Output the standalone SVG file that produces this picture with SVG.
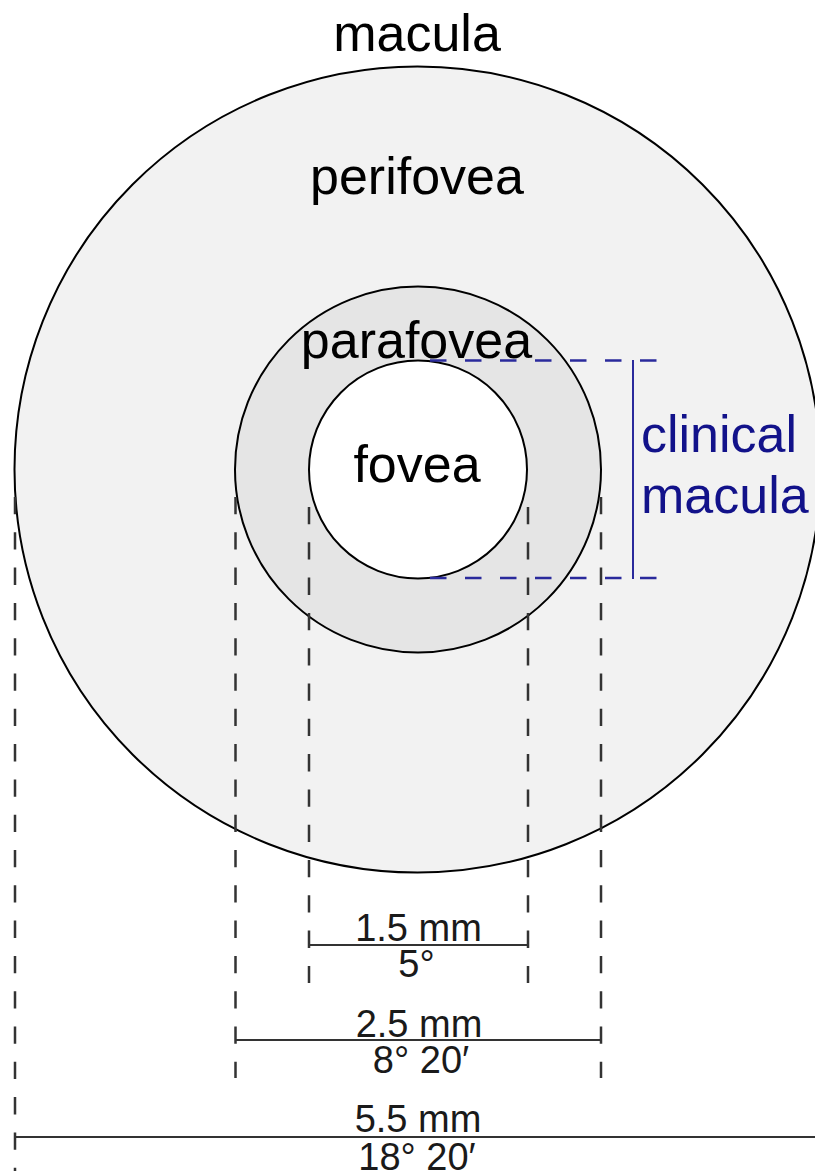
<svg xmlns="http://www.w3.org/2000/svg" width="815" height="1171" viewBox="0 0 815 1171">
  <style>
    .ring { stroke: #000; stroke-width: 2; }
    .lbl { font-family: "Liberation Sans", Arial, sans-serif; font-size: 52px; fill: #000; }
    .dim { font-family: "Liberation Sans", Arial, sans-serif; font-size: 38px; fill: #1a1a1a; text-anchor: middle; }
    .blue { font-family: "Liberation Sans", Arial, sans-serif; font-size: 52px; fill: #12128a; }
    .guide { stroke: #333; stroke-width: 2.5; stroke-dasharray: 17.3 18; fill: none; }
    .bguide { stroke: #2a2a9c; stroke-width: 2.5; stroke-dasharray: 16.5 18.5; fill: none; }
    .dline { stroke: #333; stroke-width: 2.2; fill: none; }
  </style>
  <rect width="815" height="1171" fill="#ffffff"/>

  <g id="macula-node">
    <circle class="ring" cx="417.5" cy="469.5" r="403" fill="#f2f2f2"/>
    <text class="lbl" x="417" y="51" text-anchor="middle">macula</text>
    <text class="lbl" x="417" y="194" text-anchor="middle">perifovea</text>
  </g>

  <g id="parafovea-node">
    <circle class="ring" cx="418" cy="469.5" r="183" fill="#e5e5e5"/>
  </g>

  <g id="fovea-node">
    <circle class="ring" cx="418" cy="469.5" r="109" fill="#ffffff"/>
    <text class="lbl" x="417" y="482" text-anchor="middle">fovea</text>
  </g>

  <g id="parafovea-label">
    <text class="lbl" x="416.5" y="358" text-anchor="middle">parafovea</text>
  </g>

  <g id="connectors">
    <line class="guide" x1="15" y1="497" x2="15" y2="1171"/>
    <line class="guide" x1="235.5" y1="497" x2="235.5" y2="1078"/>
    <line class="guide" x1="601" y1="497" x2="601" y2="1078"/>
    <line class="guide" x1="309" y1="507" x2="309" y2="983"/>
    <line class="guide" x1="528" y1="507" x2="528" y2="983"/>
    <line class="dline" x1="309" y1="945" x2="528" y2="945"/>
    <line class="dline" x1="235.5" y1="1040" x2="601" y2="1040"/>
    <line class="dline" x1="15" y1="1137" x2="815" y2="1137"/>
    <line class="bguide" x1="430" y1="360.5" x2="660" y2="360.5"/>
    <line class="bguide" x1="430" y1="578" x2="660" y2="578"/>
    <line x1="633" y1="360" x2="633" y2="579" stroke="#2a2a9c" stroke-width="2"/>
  </g>

  <g id="clinical-macula">
    <text class="blue" x="641" y="452">clinical</text>
    <text class="blue" x="641" y="513">macula</text>
  </g>

  <g id="dim-fovea">
    <text class="dim" x="418.5" y="941">1.5 mm</text>
    <text class="dim" x="416.5" y="977">5°</text>
  </g>
  <g id="dim-parafovea">
    <text class="dim" x="419" y="1037">2.5 mm</text>
    <text class="dim" x="421" y="1073">8° 20′</text>
  </g>
  <g id="dim-macula">
    <text class="dim" x="418" y="1132">5.5 mm</text>
    <text class="dim" x="417" y="1170">18° 20′</text>
  </g>
</svg>
